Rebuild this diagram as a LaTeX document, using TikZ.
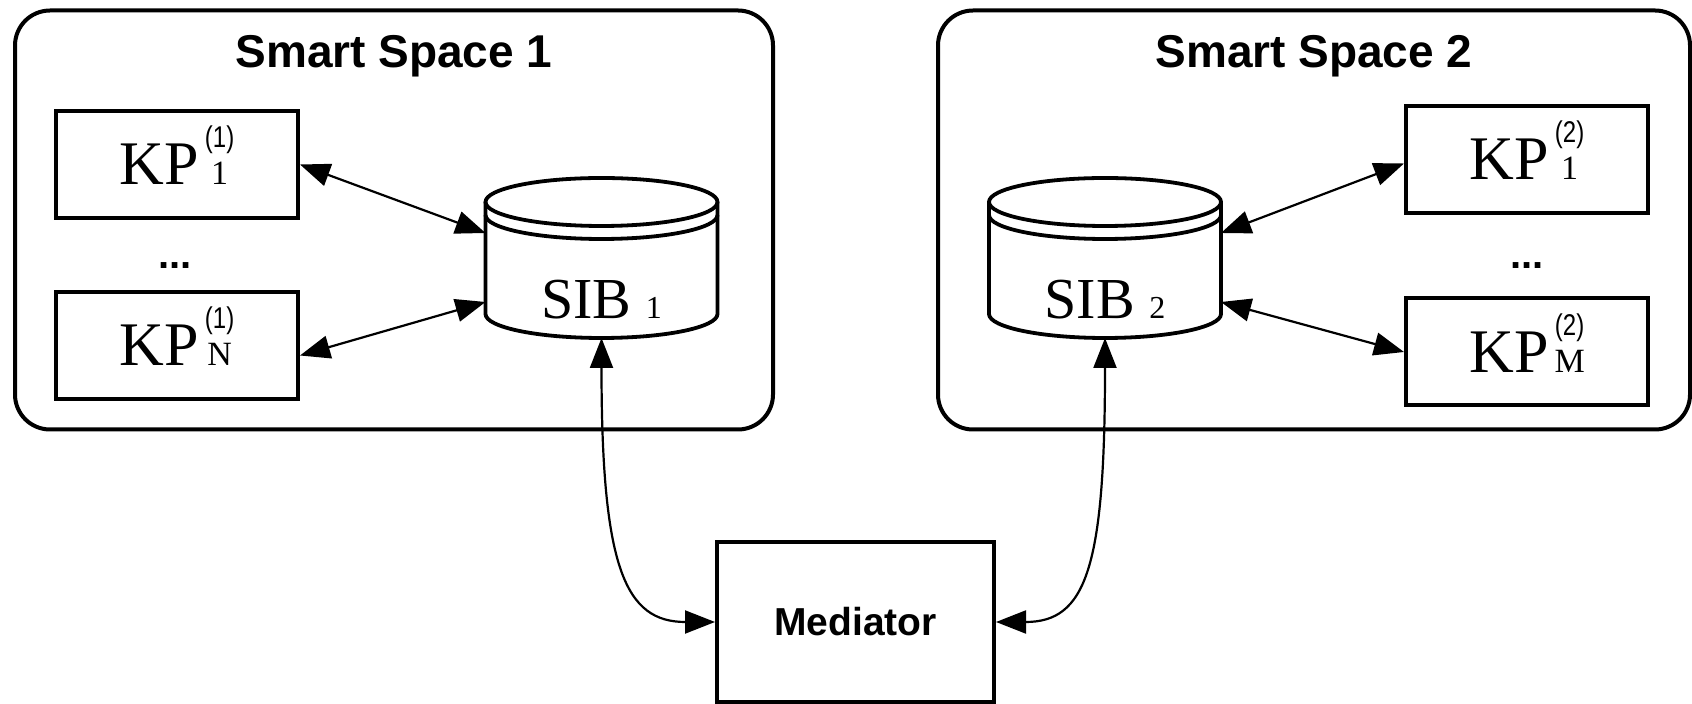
\documentclass[tikz,border=0pt]{standalone}
\usepackage{fontspec}
\setmainfont{Liberation Serif}
\setsansfont{Liberation Sans}
\newfontfamily\idxfont[FakeStretch=0.8]{Liberation Sans}
\usetikzlibrary{arrows.meta,positioning,calc}

% KP index: superscript centred over the subscript
\newsavebox\supbox
\newsavebox\subbox
\newlength\idxwd
\newcommand{\kpidx}[2]{%
  \sbox\supbox{\idxfont\fontsize{15}{17}\selectfont #1}%
  \sbox\subbox{\rmfamily\fontsize{17}{19}\selectfont #2}%
  \ifdim\wd\supbox>\wd\subbox\setlength\idxwd{\wd\supbox}\else\setlength\idxwd{\wd\subbox}\fi
  \makebox[\idxwd]{\smash{\makebox[0pt]{\raisebox{18.5pt}{\usebox\supbox}}}\makebox[0pt]{\usebox\subbox}}}
\newcommand{\kp}[2]{KP\hspace{3pt}\kpidx{#1}{#2}}
\newcommand{\subsize}{\fontsize{16}{18}\selectfont}

\begin{document}
\begin{tikzpicture}[x=0.5pt, y=-0.5pt,
  spacebox/.style={draw, line width=2pt, rounded corners=17.5pt, minimum height=209.5pt, inner sep=0pt},
  title/.style={font=\sffamily\bfseries\fontsize{23}{27}\selectfont, inner sep=0pt},
  kpbox/.style={draw, line width=2pt, minimum width=121pt, minimum height=53.5pt, inner sep=0pt, font=\fontsize{31}{36}\selectfont},
  medbox/.style={draw, line width=2pt, minimum width=138.5pt, minimum height=80pt, inner sep=0pt, font=\sffamily\bfseries\fontsize{19.5}{23}\selectfont},
  sibbox/.style={minimum width=116pt, minimum height=80pt, inner sep=0pt, outer sep=0pt},
  siblabel/.style={inner sep=0pt, font=\fontsize{29}{34}\selectfont},
  cyl/.style={line width=1.9pt},
  dots/.style={inner sep=0pt, font=\sffamily\bfseries\fontsize{20}{24}\selectfont},
  link/.style={line width=1.1pt, {Triangle[length=15pt,width=11.5pt]}-{Triangle[length=15pt,width=11.5pt]}}]

\fill[white] (0,0) rectangle (1692,704);
\useasboundingbox (0,0) rectangle (1692,704);

% the two smart spaces
\node[spacebox, minimum width=379pt] (ss1) at (394,220) {};
\node[spacebox, minimum width=376pt] (ss2) at (1314,220) {};
\node[title, below=13pt of ss1.north] (title1) {Smart Space 1};
\node[title, below=13pt of ss2.north] (title2) {Smart Space 2};

% knowledge processors
\node[kpbox] (kp11) at (177,164.5) {\kp{(1)}{1}};
\node[kpbox] (kpn1) at (177,345.5) {\kp{(1)}{N}};
\node[kpbox] (kp12) at (1527,159.5) {\kp{(2)}{1}};
\node[kpbox] (kpm2) at (1527,352) {\kp{(2)}{M}};
\node[dots] (dots1) at (175,266) {...};
\node[dots] (dots2) at (1527,266) {...};

% SIBs
\node[sibbox] (sib1) at (601.5,258) {};
\node[sibbox] (sib2) at (1105,258) {};
\foreach \s in {sib1,sib2} {
  \draw[cyl] ([yshift=-12pt]\s.north west) -- ([yshift=12pt]\s.south west)
    arc[start angle=180, end angle=360, x radius=58pt, y radius=12pt]
    -- ([yshift=-12pt]\s.north east);
  \draw[cyl] ([yshift=-12pt]\s.north) ellipse[x radius=58pt, y radius=12pt];
  \draw[cyl] ([yshift=-18.5pt]\s.north west)
    arc[start angle=180, end angle=360, x radius=58pt, y radius=12pt];
}
\node[siblabel] (sib1text) at ([yshift=-21pt]sib1.center) {SIB {\subsize 1}};
\node[siblabel] (sib2text) at ([yshift=-21pt]sib2.center) {SIB {\subsize 2}};

\node[medbox] (med) at (855.5,622) {Mediator};

\draw[link] (kp11.east) -- ([yshift=12.5pt]sib1.west);
\draw[link] ([yshift=-5pt]kpn1.east) -- ([yshift=-22pt]sib1.west);
\draw[link] ([yshift=-2pt]kp12.west) -- ([yshift=12.5pt]sib2.east);
\draw[link] (kpm2.west) -- ([yshift=-22pt]sib2.east);
\draw[link] (sib1.south) .. controls +(0,230) and +(-90,0) .. (med.west);
\draw[link] (sib2.south) .. controls +(0,230) and +(90,0) .. (med.east);
\end{tikzpicture}
\end{document}
